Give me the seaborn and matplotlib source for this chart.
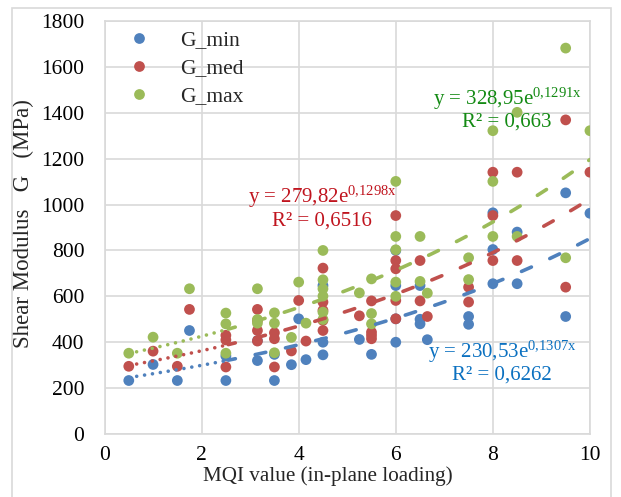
import numpy as np
import pandas as pd
import matplotlib
matplotlib.use("Agg")
import matplotlib.pyplot as plt
import matplotlib.patches as mpatches
import seaborn as sns

# --- data ---
min_x = [0.5, 1.0, 1.5, 1.75, 2.5, 2.5, 3.15, 3.15, 3.5, 3.5, 3.85, 4.0, 4.15,
         4.5, 4.5, 4.5, 5.25, 5.5, 6.0, 6.0, 6.0, 6.0, 6.5, 6.5, 6.5, 6.65,
         7.5, 7.5, 8.0, 8.0, 8.0, 8.5, 8.5, 9.5, 9.5, 10.0]
min_y = [233, 303, 233, 451, 233, 340, 320, 407, 233, 347, 302, 502, 324,
         345, 400, 647, 412, 347, 400, 502, 647, 800, 480, 500, 647, 411,
         478, 512, 655, 804, 964, 655, 880, 512, 1051, 962]

med_x = [0.5, 1.0, 1.5, 1.75, 2.5, 2.5, 2.5, 3.15, 3.15, 3.15, 3.15, 3.5, 3.5,
         3.5, 3.85, 4.0, 4.15, 4.5, 4.5, 4.5, 4.5, 4.5, 5.25, 5.5, 5.5, 5.5,
         5.5, 6.0, 6.0, 6.0, 6.0, 6.0, 6.5, 6.5, 6.65, 7.5, 7.5, 8.0, 8.0,
         8.0, 8.5, 8.5, 9.5, 9.5, 10.0]
med_y = [295, 361, 295, 543, 292, 410, 430, 405, 451, 495, 543, 292, 415,
         441, 362, 582, 405, 451, 495, 539, 575, 723, 515, 415, 430, 444,
         580, 502, 582, 720, 756, 952, 580, 756, 512, 575, 640, 756, 952,
         1141, 756, 1141, 640, 1369, 1141]

max_x = [0.5, 1.0, 1.5, 1.75, 2.5, 2.5, 2.5, 3.15, 3.15, 3.15, 3.5, 3.5, 3.5,
         3.85, 4.0, 4.15, 4.5, 4.5, 4.5, 4.5, 4.5, 4.5, 5.25, 5.5, 5.5, 5.5,
         6.0, 6.0, 6.0, 6.0, 6.0, 6.5, 6.5, 6.65, 7.5, 7.5, 8.0, 8.0, 8.0,
         8.5, 8.5, 9.5, 9.5, 10.0]
max_y = [352, 422, 352, 633, 352, 480, 527, 483, 499, 633, 354, 483, 528,
         421, 662, 483, 499, 531, 601, 633, 672, 800, 615, 480, 525, 676,
         600, 662, 803, 861, 1101, 665, 861, 614, 673, 768, 861, 1101, 1322,
         861, 1402, 768, 1682, 1322]

# exponential trendlines y = a*exp(b*x), shown on the chart
fit_a = {"G_min": 230.53, "G_med": 279.82, "G_max": 328.95}
fit_b = {"G_min": 0.1307, "G_med": 0.1298, "G_max": 0.1291}
fit_r2 = {"G_min": "0,6262", "G_med": "0,6516", "G_max": "0,663"}

colors = {"G_min": "#4F81BD", "G_med": "#C0504D", "G_max": "#9BBB59"}
text_colors = {"G_min": "#0A70C0", "G_med": "#C0141E", "G_max": "#138A13"}

df = pd.concat([
    pd.DataFrame({"MQI": min_x, "G": min_y, "series": "G_min"}),
    pd.DataFrame({"MQI": med_x, "G": med_y, "series": "G_med"}),
    pd.DataFrame({"MQI": max_x, "G": max_y, "series": "G_max"}),
], ignore_index=True)

sns.set_style("white")
plt.rcParams["font.family"] = ["Liberation Serif", "DejaVu Serif"]
plt.rcParams["mathtext.fontset"] = "custom"
plt.rcParams["mathtext.rm"] = "Liberation Serif"
plt.rcParams["mathtext.it"] = "Liberation Serif"

fig = plt.figure(figsize=(6.21, 4.97), dpi=100)
ax = fig.add_axes([0.1683, 0.1268, 0.7817, 0.8309])

grid_c = "#D9D9D9"
sns.scatterplot(data=df, x="MQI", y="G", hue="series", palette=colors,
                s=60, linewidth=0, ax=ax, zorder=3)

# trendlines: dotted at the low end, dashed beyond
split = 2.55
for name in ["G_min", "G_med", "G_max"]:
    a, b = fit_a[name], fit_b[name]
    x1 = np.linspace(0.5, split, 50)
    x2 = np.linspace(split, 10, 200)
    ax.plot(x1, a * np.exp(b * x1), color=colors[name], lw=2.6,
            linestyle=(0, (0.01, 2.2)), dash_capstyle="round", zorder=4)
    ax.plot(x2, a * np.exp(b * x2), color=colors[name], lw=2.6,
            linestyle=(1, (3.0, 5.6)), dash_capstyle="round", zorder=4)

ax.set_xlim(0, 10)
ax.set_ylim(0, 1800)
ax.set_xticks(range(0, 11, 2))
ax.set_yticks(range(0, 1801, 200))
ax.grid(True, color=grid_c, lw=1.2)
ax.set_axisbelow(True)
for sp in ax.spines.values():
    sp.set_color(grid_c)
    sp.set_linewidth(1.2)
ax.tick_params(axis="both", length=0, labelsize=15.5, colors="#000000")
ax.tick_params(axis="y", pad=14.5)
ax.tick_params(axis="x", pad=8.5)

ax.set_xlabel("MQI value (in-plane loading)", fontsize=15.2)
ax.set_ylabel("Shear Modulus   G   (MPa)", fontsize=16.5)
ax.xaxis.set_label_coords(0.4595, -0.077)
ax.yaxis.set_label_coords(-0.146, 0.51)

handles, labels = ax.get_legend_handles_labels()
ax.legend(handles, labels, loc="upper left", bbox_to_anchor=(0.051, 0.977),
          frameon=False, fontsize=15.5, handlelength=0.9, handletextpad=1.45,
          labelspacing=0.36, borderpad=0, borderaxespad=0, markerscale=1.0)

# equation labels
eq_pos = {"G_med": (4.48, 1035, 930), "G_max": (8.29, 1461, 1361),
          "G_min": (8.19, 356, 256)}
for name, (xc, y1, y2) in eq_pos.items():
    a_txt = f"{fit_a[name]:.2f}".replace(".", ",")
    b_txt = f"{fit_b[name]:.4f}".replace(".", "{,}")
    ax.text(xc, y1, f"y = {a_txt}e" + r"$^{\mathrm{" + b_txt + "x}}$",
            color=text_colors[name], fontsize=15, ha="center", va="center",
            zorder=5)
    ax.text(xc, y2, f"R² = {fit_r2[name]}", color=text_colors[name],
            fontsize=15, ha="center", va="center", zorder=5)

# chart area border
fig.patches.append(mpatches.Rectangle((12 / 621, -0.02), 599 / 621, 1.02 - 8 / 497,
                                      transform=fig.transFigure, fill=False,
                                      edgecolor=grid_c, lw=1.2))

fig.savefig("out.png", dpi=100)
